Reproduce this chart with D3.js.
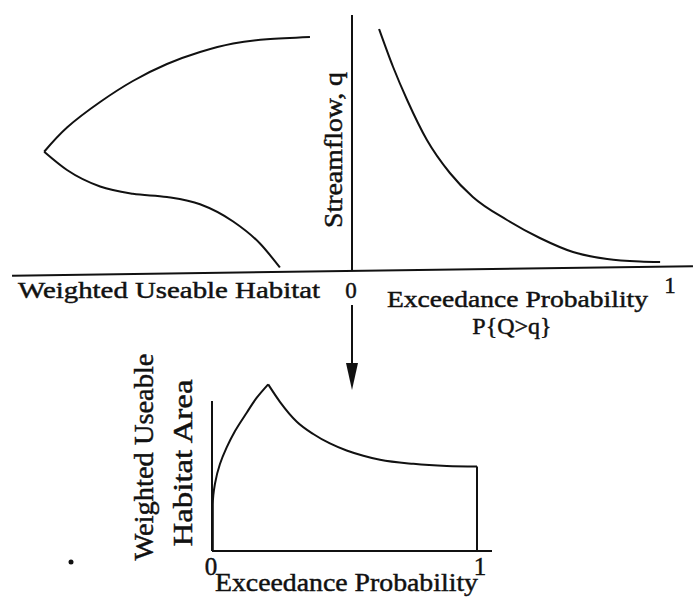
<!DOCTYPE html>
<html>
<head>
<meta charset="utf-8">
<script src="https://cdn.jsdelivr.net/npm/d3@7"></script>
<style>
  body { margin: 0; background: #fff; }
  text { font-family: "Liberation Serif", "Times New Roman", serif; fill: #111; stroke: #111; stroke-width: 0.45px; }
</style>
</head>
<body>
<div id="chart"></div>
<script>
// Top-left: weighted useable habitat (wua) vs streamflow q
const habitatUpper = [
  [12.4, 93.6], [25.4, 92.7], [35.6, 91.0], [45.6, 87.6], [55.6, 82.8],
  [65.9, 76.0], [75.8, 67.6], [85.8, 57.4], [92.7, 47.7]
];
const habitatLower = [
  [92.7, 47.7], [85.8, 40.4], [75.8, 33.8], [65.9, 30.9], [55.6, 29.6],
  [45.6, 26.7], [35.6, 19.8], [27.5, 11.0], [21.5, 1.4]
];

// Top-right: flow duration curve, exceedance probability vs q
const flowDuration = [
  [0.088, 96.8], [0.132, 81.6], [0.176, 68.4], [0.238, 52.4], [0.310, 39.2],
  [0.382, 29.6], [0.489, 20.4], [0.592, 13.2], [0.696, 7.6], [0.803, 4.8],
  [0.906, 3.8], [0.969, 3.6]
];

// Bottom: habitat duration curve, exceedance probability vs wua
const durationRise = [
  [0.003, 0], [0.003, 31], [0.011, 44.7], [0.030, 58], [0.055, 68.9],
  [0.087, 80], [0.131, 92.2], [0.169, 102.2], [0.212, 111.1]
];
const durationFall = [
  [0.212, 111.1], [0.257, 99.3], [0.320, 86.2], [0.382, 78.0], [0.445, 71.7],
  [0.508, 67.0], [0.571, 63.5], [0.634, 60.8], [0.760, 58.1], [0.886, 56.7],
  [1.0, 56.3]
];

const topTicks = ["0", "1"];
const bottomTicks = ["0", "1"];

const W = 693, H = 599;

const svg = d3.select("#chart").append("svg")
    .attr("width", W)
    .attr("height", H);

svg.append("rect").attr("width", W).attr("height", H).attr("fill", "#fff");

// scales for the top panels
const qScale = d3.scaleLinear().domain([0, 100]).range([271, 21]);
const wuaTop = d3.scaleLinear().domain([0, 100]).range([351, 20]);
const probTop = d3.scaleLinear().domain([0, 1]).range([351, 670]);

// scales for the bottom panel
const probBot = d3.scaleLinear().domain([0, 1]).range([212, 477]);
const wuaBot = d3.scaleLinear().domain([0, 120]).range([551, 371]);

// axes of the top panel
svg.append("line")
    .attr("x1", 12).attr("x2", 693)
    .attr("y1", qScale(0)).attr("y2", qScale(0))
    .attr("transform", `rotate(-0.8, ${probTop(0)}, ${qScale(0)})`)
    .attr("stroke", "#111").attr("stroke-width", 2);

svg.append("line")
    .attr("x1", probTop(0) + 1).attr("x2", probTop(0) + 1)
    .attr("y1", qScale(0)).attr("y2", 15)
    .attr("stroke", "#111").attr("stroke-width", 2);

svg.append("path")
    .datum(habitatUpper)
    .attr("d", d3.line().x(d => wuaTop(d[0])).y(d => qScale(d[1])).curve(d3.curveNatural))
    .attr("fill", "none")
    .attr("stroke", "#111")
    .attr("stroke-width", 2);

svg.append("path")
    .datum(habitatLower)
    .attr("d", d3.line().x(d => wuaTop(d[0])).y(d => qScale(d[1])).curve(d3.curveMonotoneX))
    .attr("fill", "none")
    .attr("stroke", "#111")
    .attr("stroke-width", 2);

svg.append("path")
    .datum(flowDuration)
    .attr("d", d3.line().x(d => probTop(d[0])).y(d => qScale(d[1])).curve(d3.curveMonotoneX))
    .attr("fill", "none")
    .attr("stroke", "#111")
    .attr("stroke-width", 2);

// top labels
svg.append("text")
    .attr("x", 18).attr("y", 298)
    .attr("font-size", 23)
    .attr("textLength", 302).attr("lengthAdjust", "spacingAndGlyphs")
    .text("Weighted Useable Habitat");

svg.selectAll(".topTick")
    .data(topTicks)
    .enter().append("text")
    .attr("class", "topTick")
    .attr("x", d => probTop(+d))
    .attr("y", (d, i) => i ? 293 : 298)
    .attr("text-anchor", "middle")
    .attr("font-size", 23)
    .text(d => d);

svg.append("text")
    .attr("x", 387).attr("y", 307)
    .attr("font-size", 24)
    .attr("textLength", 261).attr("lengthAdjust", "spacingAndGlyphs")
    .text("Exceedance Probability");

svg.append("text")
    .attr("x", 512).attr("y", 334)
    .attr("text-anchor", "middle")
    .attr("font-size", 24)
    .text("P{Q>q}");

svg.append("text")
    .attr("transform", "translate(342,150) rotate(-90)")
    .attr("text-anchor", "middle")
    .attr("font-size", 25)
    .attr("textLength", 156).attr("lengthAdjust", "spacingAndGlyphs")
    .text("Streamflow, q");

// arrow from the top panels to the bottom one
svg.append("line")
    .attr("x1", 352).attr("x2", 352)
    .attr("y1", 305).attr("y2", 368)
    .attr("stroke", "#111").attr("stroke-width", 2);

svg.append("path")
    .attr("d", "M346,363 L358,363 L352,390 Z")
    .attr("fill", "#111");

// bottom panel axes
svg.append("line")
    .attr("x1", probBot(0)).attr("x2", probBot(0))
    .attr("y1", wuaBot(0)).attr("y2", wuaBot(100))
    .attr("stroke", "#111").attr("stroke-width", 2);

svg.append("line")
    .attr("x1", probBot(0)).attr("x2", 492)
    .attr("y1", wuaBot(0)).attr("y2", wuaBot(0))
    .attr("stroke", "#111").attr("stroke-width", 2);

svg.append("path")
    .datum(durationRise)
    .attr("d", d3.line().x(d => probBot(d[0])).y(d => wuaBot(d[1])).curve(d3.curveMonotoneY))
    .attr("fill", "none")
    .attr("stroke", "#111")
    .attr("stroke-width", 2);

svg.append("path")
    .datum(durationFall)
    .attr("d", d3.line().x(d => probBot(d[0])).y(d => wuaBot(d[1])).curve(d3.curveMonotoneX))
    .attr("fill", "none")
    .attr("stroke", "#111")
    .attr("stroke-width", 2);

const lastPt = durationFall[durationFall.length - 1];
svg.append("line")
    .attr("x1", probBot(lastPt[0])).attr("x2", probBot(lastPt[0]))
    .attr("y1", wuaBot(lastPt[1])).attr("y2", wuaBot(0))
    .attr("stroke", "#111").attr("stroke-width", 2);

// bottom labels
svg.selectAll(".botTick")
    .data(bottomTicks)
    .enter().append("text")
    .attr("class", "botTick")
    .attr("x", d => probBot(+d) + (+d ? 3 : -1))
    .attr("y", 575)
    .attr("text-anchor", "middle")
    .attr("font-size", 25)
    .text(d => d);

svg.append("text")
    .attr("x", 215).attr("y", 591)
    .attr("font-size", 25)
    .attr("textLength", 263).attr("lengthAdjust", "spacingAndGlyphs")
    .text("Exceedance Probability");

svg.append("text")
    .attr("transform", "translate(153,457) rotate(-90)")
    .attr("text-anchor", "middle")
    .attr("font-size", 27)
    .attr("textLength", 207).attr("lengthAdjust", "spacingAndGlyphs")
    .text("Weighted Useable");

svg.append("text")
    .attr("transform", "translate(192,463) rotate(-90)")
    .attr("text-anchor", "middle")
    .attr("font-size", 27)
    .attr("textLength", 167).attr("lengthAdjust", "spacingAndGlyphs")
    .text("Habitat Area");

// stray dot from the scan
svg.append("circle")
    .attr("cx", 71).attr("cy", 562).attr("r", 2.5)
    .attr("fill", "#111");
</script>
</body>
</html>
